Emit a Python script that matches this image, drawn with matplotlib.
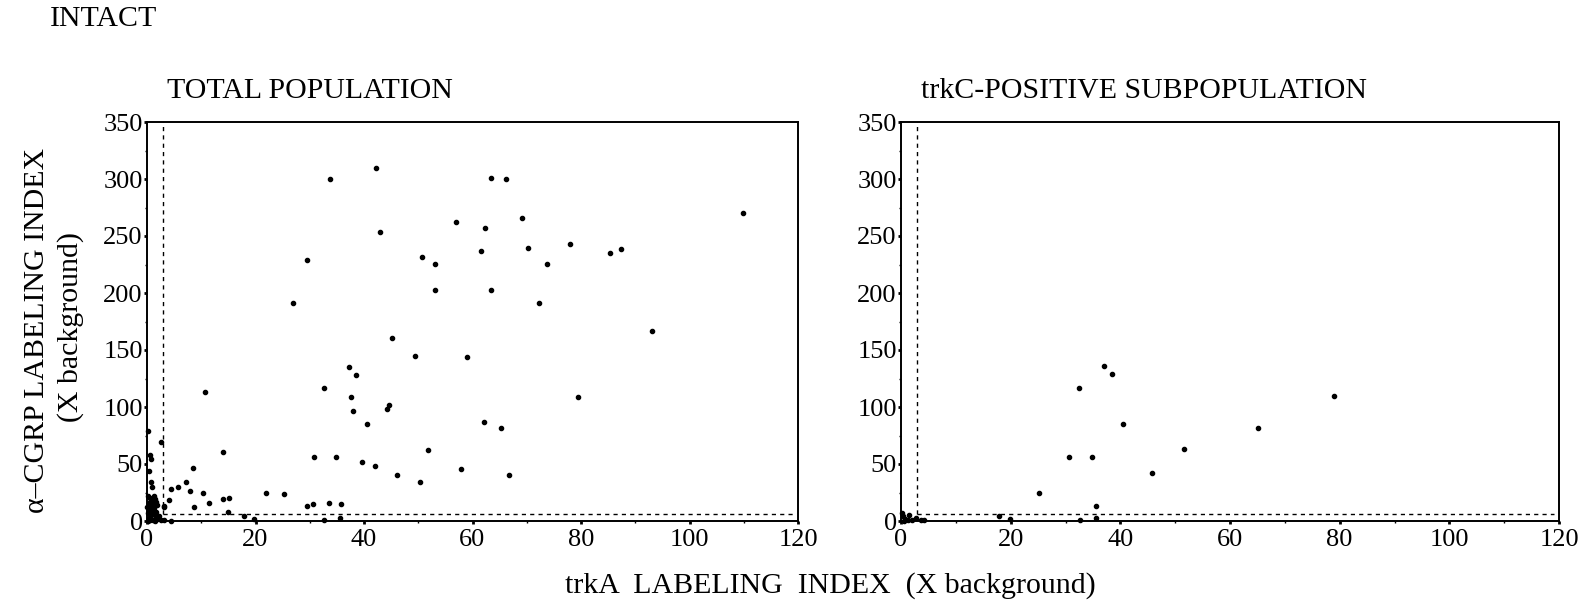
import matplotlib
matplotlib.use("Agg")
import matplotlib.pyplot as plt
from matplotlib.ticker import MultipleLocator

plt.rcParams['font.family'] = ['Liberation Serif', 'DejaVu Serif']

# cut-off lines (X background)
x_cut = 3
y_cut = 6

# TOTAL POPULATION (trkA index, CGRP index)
total_x = [42.2, 33.8, 56.9, 43.0, 29.5, 50.6, 53.0, 53.0, 26.9, 45.1,
           49.4, 37.2, 38.5, 32.6, 10.6, 37.6, 38.0, 44.3, 44.7, 40.6,
           0.1, 2.6, 14.1, 51.8, 0.5, 0.8, 30.8, 34.9, 8.5, 39.6,
           42.1, 57.8, 0.4, 46.0, 50.4, 7.1, 0.8, 1.0, 5.8, 4.4,
           7.9, 10.3, 22.0, 25.2, 4.0, 14.0, 15.2, 11.4, 8.6, 3.2,
           3.1, 29.5, 30.6, 33.5, 35.7, 14.9, 17.8, 19.8, 32.6, 35.5,
           63.5, 66.1, 109.9, 69.2, 62.3, 61.6, 70.3, 78.0, 85.4, 87.3,
           73.8, 63.4, 72.3, 93.1, 58.9, 79.4, 62.2, 65.3, 66.8,
           0.2, 0.5, 0.8, 1.5, 0.3, 1.0, 1.8, 0.4, 1.2, 0.6,
           1.6, 0.2, 0.9, 1.4, 2.2, 0.3, 0.7, 1.1, 1.9, 2.6,
           3.2, 4.5, 0.1, 0.5, 1.5, 0.9, 1.3, 1.7, 0.05, 2.0]
total_y = [309.4, 300.0, 262.5, 253.8, 229.0, 231.6, 225.7, 202.6, 191.0, 160.8,
           145.0, 135.0, 128.0, 116.4, 113.0, 108.8, 96.2, 98.5, 102.0, 85.0,
           78.7, 69.6, 60.5, 62.6, 57.6, 54.7, 55.9, 55.9, 46.5, 51.5,
           48.2, 45.5, 44.0, 40.6, 34.0, 34.2, 34.0, 29.5, 29.5, 28.4,
           26.0, 24.6, 24.8, 23.7, 18.0, 19.3, 20.2, 15.5, 12.0, 13.4,
           12.0, 13.0, 15.0, 16.0, 15.0, 7.6, 4.6, 2.0, 1.0, 3.0,
           301.0, 300.0, 270.0, 266.0, 257.0, 236.6, 239.7, 243.0, 235.4, 238.9,
           225.2, 203.0, 191.5, 166.4, 144.0, 108.8, 86.6, 81.3, 40.6,
           22.0, 20.0, 18.0, 19.0, 16.0, 15.0, 14.0, 12.0, 11.0, 9.0,
           8.0, 7.0, 6.0, 5.0, 4.0, 3.0, 2.0, 1.0, 1.5, 0.8,
           0.5, 0.3, 0.0, 0.5, 0.0, 10.0, 22.0, 17.0, 12.0, 2.5]

# trkC-POSITIVE SUBPOPULATION
trkc_x = [37.1, 38.4, 32.5, 40.5, 30.7, 34.8, 51.7, 45.8, 25.2, 35.6,
          32.6, 35.5, 17.8, 19.8, 65.1, 79.0,
          0.3, 0.8, 1.5, 2.0, 2.8, 3.6, 4.2, 0.5, 1.2, 0.2]
trkc_y = [135.7, 128.7, 117.0, 85.4, 56.4, 56.4, 63.2, 41.8, 24.3, 12.9,
          1.0, 3.0, 4.6, 2.0, 81.9, 109.6,
          4.0, 2.0, 5.0, 1.0, 3.0, 0.5, 0.8, 0.0, 1.0, 7.0]

fig = plt.figure(figsize=(15.84, 6.06), dpi=100)
ax1 = fig.add_axes([147 / 1584, 85 / 606, 651 / 1584, 399 / 606])
ax2 = fig.add_axes([901 / 1584, 85 / 606, 658 / 1584, 399 / 606])

for ax, xs, ys, title in [(ax1, total_x, total_y, "TOTAL POPULATION"),
                          (ax2, trkc_x, trkc_y, "trkC-POSITIVE SUBPOPULATION")]:
    ax.plot(xs, ys, 'o', color='black', markersize=3.0, clip_on=False)
    ax.plot([x_cut, x_cut], [y_cut, 350], color='black', lw=1,
            linestyle=(0, (3, 3)))
    ax.plot([x_cut, 119], [y_cut, y_cut], color='black', lw=1,
            linestyle=(0, (3, 3)))
    ax.set_xlim(0, 120)
    ax.set_ylim(0, 350)
    ax.xaxis.set_major_locator(MultipleLocator(20))
    ax.xaxis.set_minor_locator(MultipleLocator(10))
    ax.yaxis.set_major_locator(MultipleLocator(50))
    ax.yaxis.set_minor_locator(MultipleLocator(25))
    ax.tick_params(which='major', direction='out', length=2.5, width=2,
                   labelsize=19, pad=0.5)
    ax.tick_params(axis='x', which='major', pad=3)
    ax.tick_params(which='minor', direction='out', length=1.5, width=1)
    for s in ax.spines.values():
        s.set_linewidth(1.4)
    ax.text(0.03, 1.045, title, transform=ax.transAxes, fontsize=21.5,
            ha='left', va='bottom')

fig.text(50 / 1584, 1 - 19 / 606, "INTACT", fontsize=21.5, ha='left', va='center')
fig.text(37 / 1584, 1 - 330 / 606, "α–CGRP LABELING INDEX", fontsize=21.5,
         rotation=90, ha='center', va='center')
fig.text(71 / 1584, 1 - 327 / 606, "(X background)", fontsize=21.5,
         rotation=90, ha='center', va='center')
fig.text(830 / 1584, 1 - 586 / 606, "trkA  LABELING  INDEX  (X background)",
         fontsize=21.5, ha='center', va='center')

plt.savefig("out.png", dpi=100)
